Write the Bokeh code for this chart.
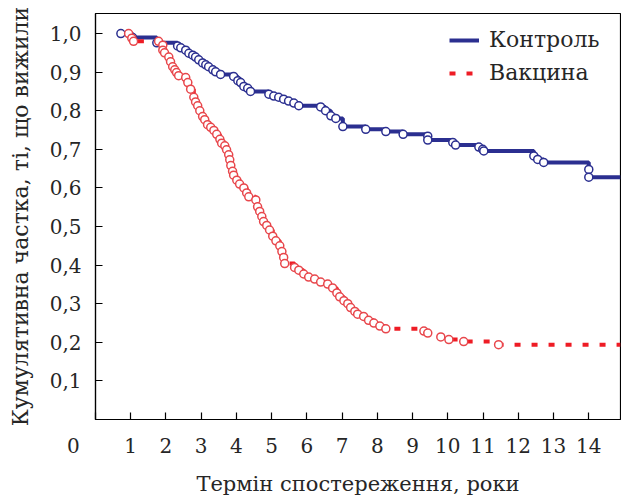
from bokeh.plotting import figure
from bokeh.models import Range1d, FixedTicker, Legend, LegendItem
from bokeh.embed import file_html
from bokeh.resources import INLINE

# ---- data ----
x_end = 14.9

control_time = [0.72, 1.05, 1.74, 2.33, 2.42, 2.56, 2.65, 2.76, 2.84, 2.93, 3.04, 3.13, 3.21,
                3.33, 3.41, 3.55, 3.92, 4.04, 4.12, 4.21, 4.32, 4.40, 4.92, 5.06, 5.20, 5.34,
                5.48, 5.63, 5.77, 6.39, 6.53, 6.68, 6.82, 7.02, 7.67, 8.24, 8.73, 9.43, 9.43,
                10.14, 10.22, 10.88, 10.99, 11.02, 12.44, 12.55, 12.72, 14.00, 14.00]
control_surv = [1.000, 0.990, 0.976, 0.968, 0.963, 0.957, 0.949, 0.944, 0.939, 0.932, 0.924,
                0.919, 0.914, 0.906, 0.901, 0.894, 0.889, 0.878, 0.873, 0.863, 0.858, 0.850,
                0.843, 0.838, 0.835, 0.830, 0.825, 0.820, 0.813, 0.810, 0.800, 0.787, 0.780,
                0.759, 0.752, 0.746, 0.739, 0.734, 0.724, 0.718, 0.711, 0.706, 0.700, 0.696,
                0.683, 0.674, 0.666, 0.648, 0.628]

vaccine_time = [0.94, 1.03, 1.08, 1.79, 1.91, 1.91, 1.96, 2.08, 2.13, 2.19, 2.25, 2.30, 2.36,
                2.56, 2.62, 2.70, 2.79, 2.84, 2.90, 2.96, 3.04, 3.10, 3.18, 3.27, 3.36, 3.44,
                3.53, 3.58, 3.67, 3.72, 3.78, 3.81, 3.84, 3.89, 3.92, 4.01, 4.09, 4.21, 4.29,
                4.35, 4.55, 4.60, 4.66, 4.72, 4.77, 4.86, 4.94, 5.03, 5.12, 5.23, 5.29, 5.34,
                5.37, 5.65, 5.77, 5.91, 6.05, 6.22, 6.39, 6.59, 6.73, 6.85, 6.93, 7.05, 7.16,
                7.24, 7.36, 7.44, 7.61, 7.75, 7.90, 8.07, 8.24, 9.32, 9.43, 9.80, 10.03,
                10.45, 11.44]
vaccine_surv = [1.000, 0.988, 0.980, 0.980, 0.970, 0.957, 0.950, 0.939, 0.927, 0.914, 0.906,
                0.899, 0.891, 0.886, 0.873, 0.856, 0.835, 0.823, 0.813, 0.800, 0.785, 0.777,
                0.764, 0.757, 0.749, 0.739, 0.726, 0.716, 0.709, 0.699, 0.686, 0.673, 0.658,
                0.643, 0.633, 0.620, 0.610, 0.600, 0.587, 0.577, 0.569, 0.551, 0.539, 0.526,
                0.513, 0.503, 0.491, 0.475, 0.463, 0.450, 0.435, 0.420, 0.404, 0.394, 0.387,
                0.377, 0.369, 0.364, 0.356, 0.351, 0.341, 0.328, 0.318, 0.308, 0.300, 0.290,
                0.280, 0.273, 0.267, 0.257, 0.250, 0.242, 0.235, 0.229, 0.224, 0.214, 0.207,
                0.202, 0.194]

x_ticks = list(range(0, 15))
x_tick_labels = ["0"] + [str(i) for i in range(1, 15)]
y_ticks = [0.1, 0.2, 0.3, 0.4, 0.5, 0.6, 0.7, 0.8, 0.9, 1.0]
y_tick_labels = ["0,1", "0,2", "0,3", "0,4", "0,5", "0,6", "0,7", "0,8", "0,9", "1,0"]
series_names = ["Контроль", "Вакцина"]
x_title = "Термін спостереження, роки"
y_title = "Кумулятивна частка, ті, що вижили"

BLUE = "#2B2F90"
RED_LINE = "#EE1C25"
RED_MARK = "#E8474C"
FONT = "DejaVu Serif"
TXT = "#262626"

p = figure(width=621, height=498, output_backend="svg", toolbar_location=None,
           x_range=Range1d(0, x_end), y_range=Range1d(0, 1.052),
           min_border_left=95, min_border_right=1, min_border_top=13, min_border_bottom=71)
p.background_fill_color = "white"
p.border_fill_color = "white"
p.outline_line_color = "black"
p.outline_line_width = 1.2
p.xgrid.visible = False
p.ygrid.visible = False

for ax in (p.xaxis[0], p.yaxis[0]):
    ax.axis_line_color = "black"
    ax.axis_line_width = 1.2
    ax.major_tick_line_color = "black"
    ax.major_tick_line_width = 1.2
    ax.major_tick_in = 7
    ax.major_tick_out = 0
    ax.minor_tick_line_color = None
    ax.major_label_text_font = FONT
    ax.major_label_text_font_size = "20px"
    ax.major_label_text_color = TXT
    ax.axis_label_text_font = FONT
    ax.axis_label_text_font_style = "normal"
    ax.axis_label_text_color = TXT

p.xaxis.axis_label_text_font_size = "21px"
p.yaxis.axis_label_text_font_size = "22px"

p.xaxis.ticker = FixedTicker(ticks=x_ticks)
p.yaxis.ticker = FixedTicker(ticks=y_ticks)
# the origin "0" sits left of the corner: pad it with no-break spaces so it shifts left
xlab = {t: l for t, l in zip(x_ticks, x_tick_labels)}
xlab[0] = x_tick_labels[0] + "\u00a0" * 7
p.xaxis.major_label_overrides = xlab
p.yaxis.major_label_overrides = {t: l for t, l in zip(y_ticks, y_tick_labels)}
p.xaxis.axis_label = x_title
p.yaxis.axis_label = y_title
p.xaxis.major_label_standoff = 14
p.yaxis.major_label_standoff = 14
p.xaxis.axis_label_standoff = 11
p.yaxis.axis_label_standoff = 14

# step lines (extended to the end of the axis)
c_line = p.step(control_time + [x_end], control_surv + [control_surv[-1]], mode="after",
                line_color=BLUE, line_width=4)
v_line = p.step(vaccine_time + [x_end], vaccine_surv + [vaccine_surv[-1]], mode="after",
                line_color=RED_LINE, line_width=4, line_dash="6 11")

p.scatter(control_time, control_surv, marker="circle", size=8, fill_color="white",
          line_color=BLUE, line_width=1.5)
p.scatter(vaccine_time, vaccine_surv, marker="circle", size=8, fill_color="white",
          line_color=RED_MARK, line_width=1.5)

legend = Legend(items=[LegendItem(label=series_names[0], renderers=[c_line]),
                       LegendItem(label=series_names[1], renderers=[v_line])],
                location="top_right", border_line_color=None, background_fill_alpha=0,
                label_text_font=FONT, label_text_font_size="22px", label_text_color=TXT,
                glyph_width=30, glyph_height=20, spacing=8, margin=14, padding=10,
                label_standoff=10, label_width=117)
p.add_layout(legend)

open("out.html", "w").write(file_html(p, INLINE))
